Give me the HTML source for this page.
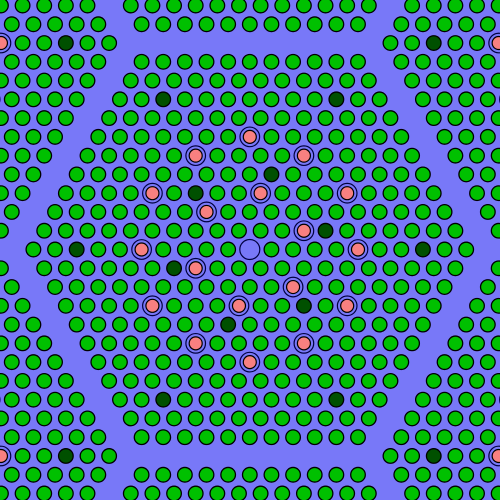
<!DOCTYPE html>
<html><head><meta charset="utf-8"><style>
html,body{margin:0;padding:0;background:#7878f8;}
svg{display:block;}
</style></head><body>
<svg id="plot" width="500" height="500" viewBox="0 0 500 500" xmlns="http://www.w3.org/2000/svg">
<rect x="0" y="0" width="500" height="500" fill="#7878f8"/>
<g id="pins"></g>
</svg>
<script>
// pin positions in lattice coords: [row, half-pitch column offset]
const pinkRows = [-6,-5,-5,-3,-3,-3,-2,-1,0,0,1,2,3,3,3,5,5,6];
const pinkCols = [0,-5,5,-9,1,9,-4,5,-10,10,-5,4,-9,-1,9,-5,5,0];
const darkRows = [-8,-8,-4,-3,-1,0,0,1,3,4,8,8];
const darkCols = [-8,8,2,-5,7,-16,16,-7,5,-2,-8,8];
const guideRows = [0];
const guideCols = [0];
const rings = 10;

const P = 21.64, S = 18.77, CX = 249.8, CY = 249.5;
const g = document.getElementById('pins');
const NS = 'http://www.w3.org/2000/svg';
function key(r,h){return r+','+h;}
const pinkSet = new Set(pinkRows.map((r,i)=>key(r,pinkCols[i])));
const darkSet = new Set(darkRows.map((r,i)=>key(r,darkCols[i])));
const guideSet = new Set(guideRows.map((r,i)=>key(r,guideCols[i])));
function xPos(h){return CX + h*P/2;}
function yPos(r){return CY + r*S;}
function circ(x,y,rad,fill,stroke,sw,name){
  const c=document.createElementNS(NS,'circle');
  c.setAttribute('cx',x.toFixed(2));c.setAttribute('cy',y.toFixed(2));c.setAttribute('r',rad);
  c.setAttribute('fill',fill);c.setAttribute('stroke',stroke);c.setAttribute('stroke-width',sw);
  
  
  g.appendChild(c);
}
for(let i=-2;i<=2;i++){
  for(let j=-2;j<=2;j++){
    const ar = -22*i - 11*j, ah = 33*j;
    for(let r=-rings;r<=rings;r++){
      for(let h=-2*rings;h<=2*rings;h++){
        if(((h-r)%2+2)%2!==0) continue;
        if(Math.abs(r)+Math.abs(h) > 2*rings && Math.abs(h)>Math.abs(r)) continue;
        if(Math.abs(h)>2*rings - Math.abs(r)) continue;
        const x=xPos(h+ah), y=yPos(r+ar);
        if(x<-15||x>515||y<-15||y>515) continue;
        const k=key(r,h);
        if(guideSet.has(k)){circ(x,y,10,'none','#000040',1.2,'guide-tube');}
        else if(pinkSet.has(k)){circ(x,y,9.8,'none','#000040',1.2,'poison-pin-cladding');circ(x,y,6.5,'#f88080','#000','1.2','poison-pin');}
        else if(darkSet.has(k)){circ(x,y,7.3,'#005000','#000',1.3,'dark-pin');}
        else {circ(x,y,7.3,'#00c000','#000',1.3,'fuel-pin');}
      }
    }
  }
}
</script>
</body></html>
